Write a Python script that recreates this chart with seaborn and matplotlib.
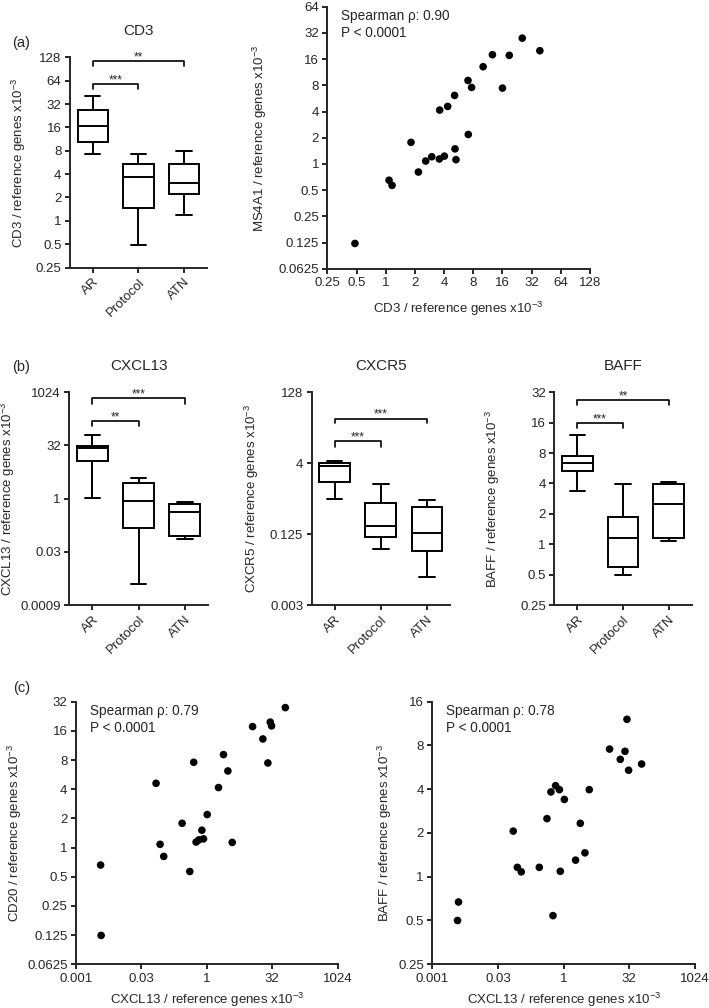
import numpy as np
import pandas as pd
import matplotlib
matplotlib.use('Agg')
import matplotlib.pyplot as plt
from matplotlib.ticker import NullLocator
import seaborn as sns

sns.set_style('ticks')
plt.rcParams['font.family'] = ['Liberation Sans', 'DejaVu Sans']
plt.rcParams['mathtext.fontset'] = 'custom'
plt.rcParams['mathtext.rm'] = 'Liberation Sans'
plt.rcParams['mathtext.default'] = 'regular'
plt.rcParams['font.size'] = 9.5
plt.rcParams['axes.linewidth'] = 1.4
plt.rcParams['xtick.major.width'] = 1.4
plt.rcParams['ytick.major.width'] = 1.4
plt.rcParams['xtick.major.size'] = 3.6
plt.rcParams['ytick.major.size'] = 3.6
plt.rcParams['xtick.major.pad'] = 2.5
plt.rcParams['ytick.major.pad'] = 2.5
plt.rcParams['xtick.labelsize'] = 9.5
plt.rcParams['ytick.labelsize'] = 9.5
plt.rcParams['axes.labelsize'] = 9.5

groups = ['AR', 'Protocol', 'ATN']

# box summaries: min, q1, median, q3, max (whiskers = min..max)
cd3_ar = [7.35, 10.5, 16.7, 26.8, 40.6]
cd3_protocol = [0.495, 1.48, 3.71, 5.36, 7.3]
cd3_atn = [1.18, 2.22, 3.05, 5.36, 8.0]

cxcl13_ar = [1.07, 11.5, 26.3, 31.3, 62.9]
cxcl13_protocol = [0.0038, 0.144, 0.86, 2.79, 3.95]
cxcl13_atn = [0.072, 0.089, 0.43, 0.69, 0.785]

cxcr5_ar = [0.69, 1.56, 3.57, 4.06, 4.55]
cxcr5_protocol = [0.059, 0.108, 0.19, 0.567, 1.46]
cxcr5_atn = [0.0151, 0.0554, 0.131, 0.48, 0.66]

baff_ar = [3.38, 5.34, 6.41, 7.46, 12.0]
baff_protocol = [0.5, 0.6, 1.16, 1.88, 3.95]
baff_atn = [1.08, 1.15, 2.51, 3.97, 4.16]

# significance brackets: (group from, group to, height, drop, label)
cd3_sig = [(0, 2, 114, 98, '**'), (0, 1, 58, 49.8, '***')]
cxcl13_sig = [(0, 2, 690, 478, '***'), (0, 1, 158, 111, '**')]
cxcr5_sig = [(0, 2, 35.5, 28.2, '***'), (0, 1, 11.6, 9.0, '***')]
baff_sig = [(0, 2, 26.9, 23.9, '**'), (0, 1, 16.0, 14.3, '***')]

# scatter (a): CD3 vs MS4A1
cd3_x = [0.48, 1.08, 1.16, 1.82, 2.17, 2.58, 2.98, 3.57, 4.02, 3.60, 4.35, 5.13,
         5.18, 5.30, 7.1, 7.05, 7.68, 10.1, 12.6, 16.0, 18.8, 25.6, 38.9]
ms4a1_y = [0.122, 0.65, 0.567, 1.77, 0.807, 1.08, 1.21, 1.14, 1.23, 4.16, 4.58, 6.13,
           1.49, 1.12, 2.18, 9.11, 7.57, 13.1, 18.0, 7.44, 17.7, 27.9, 20.0]

# scatter (c) left: CXCL13 vs CD20
cxcl13_x1 = [0.0036, 0.0037, 0.068, 0.084, 0.102, 0.27, 0.406, 0.50, 0.567, 0.655, 0.77, 0.84,
             1.02, 1.86, 2.42, 3.05, 3.84, 11.3, 19.5, 25.4, 28.8, 30.9, 64.0]
cd20_y = [0.66, 0.124, 4.6, 1.08, 0.81, 1.78, 0.566, 7.58, 1.14, 1.2, 1.51, 1.23,
          2.19, 4.16, 9.1, 6.17, 1.13, 17.7, 13.2, 7.46, 19.7, 18.0, 27.8]

# scatter (c) right: CXCL13 vs BAFF
cxcl13_x2 = [0.0037, 0.0039, 0.070, 0.087, 0.107, 0.277, 0.415, 0.512, 0.57, 0.655, 0.80, 0.84,
             1.04, 1.88, 2.41, 3.08, 3.87, 11.3, 19.9, 25.5, 28.3, 30.9, 61.4]
baff_y = [0.5, 0.67, 2.06, 1.16, 1.08, 1.16, 2.51, 3.83, 0.54, 4.23, 3.97, 1.09,
          3.4, 1.3, 2.33, 1.46, 3.97, 7.55, 6.42, 7.29, 12.1, 5.4, 5.96]

ylab = ' / reference genes x10$^{-3}$'


def fmt_axis(ax):
    sns.despine(ax=ax)
    ax.xaxis.set_minor_locator(NullLocator())
    ax.yaxis.set_minor_locator(NullLocator())


def box_panel(ax, summaries, sig, yticks, ylabels, title, name, ylab_x):
    df = pd.DataFrame({'group': np.repeat(groups, 5),
                       'value': np.concatenate(summaries)})
    sns.boxplot(data=df, x='group', y='value', ax=ax, log_scale=2, whis=(0, 100),
                width=0.67, color='white', linecolor='black', linewidth=1.4,
                fliersize=0)
    ax.set_ylim(yticks[0], yticks[-1])
    ax.set_yticks(yticks)
    ax.set_yticklabels(ylabels)
    ax.set_xlim(-0.5, 2.5)
    ax.set_xticks(range(3))
    ax.set_xticklabels(groups, rotation=45, ha='right', rotation_mode='anchor')
    ax.set_xlabel('')
    ax.set_ylabel(name + ylab)
    ax.yaxis.set_label_coords(ylab_x, 0.5)
    ax.set_title(title, fontsize=11, pad=16)
    for g1, g2, h, d, lab in sig:
        ax.plot([g1, g1, g2, g2], [d, h, h, d], color='black', lw=1.2, clip_on=False)
        ax.annotate(lab, xy=((g1 + g2) / 2, h), xytext=(0, 0.5), textcoords='offset points',
                    ha='center', va='baseline', fontsize=8.5)
    fmt_axis(ax)


def scatter_panel(ax, x, y, xlim, xticks, xlabels, yticks, ylabels, xname, yname, rho,
                  ylab_x, xlab_y):
    sns.scatterplot(x=x, y=y, ax=ax, color='black', s=30, edgecolor='none')
    ax.set_xscale('log', base=2)
    ax.set_yscale('log', base=2)
    ax.set_xlim(xlim)
    ax.set_ylim(yticks[0], yticks[-1])
    ax.set_xticks(xticks)
    ax.set_xticklabels(xlabels)
    ax.set_yticks(yticks)
    ax.set_yticklabels(ylabels)
    ax.set_xlabel(xname + ylab)
    ax.xaxis.set_label_coords(0.5, xlab_y)
    ax.set_ylabel(yname + ylab)
    ax.yaxis.set_label_coords(ylab_x, 0.5)
    ax.text(0.052, 0.966, 'Spearman \u03c1: ' + rho, transform=ax.transAxes,
            ha='left', va='center', fontsize=9.8)
    ax.text(0.052, 0.899, 'P < 0.0001', transform=ax.transAxes,
            ha='left', va='center', fontsize=9.8)
    fmt_axis(ax)


fig = plt.figure(figsize=(7.09, 10.08), dpi=100)

ax_a1 = fig.add_axes([0.0987, 0.7346, 0.193, 0.2085])
ax_a2 = fig.add_axes([0.4619, 0.7334, 0.3702, 0.2599])
ax_b1 = fig.add_axes([0.0977, 0.3998, 0.1956, 0.211])
ax_b2 = fig.add_axes([0.4396, 0.3998, 0.1951, 0.211])
ax_b3 = fig.add_axes([0.7818, 0.3998, 0.1938, 0.211])
ax_c1 = fig.add_axes([0.1072, 0.0434, 0.369, 0.2605])
ax_c2 = fig.add_axes([0.6097, 0.0434, 0.3705, 0.2605])

pow2_small = [0.25, 0.5, 1, 2, 4, 8, 16, 32, 64, 128]
pow2_small_lab = ['0.25', '0.5', '1', '2', '4', '8', '16', '32', '64', '128']

box_panel(ax_a1, [cd3_ar, cd3_protocol, cd3_atn], cd3_sig,
          pow2_small, pow2_small_lab, 'CD3', 'CD3', -0.31)

scatter_panel(ax_a2, cd3_x, ms4a1_y, (0.25, 128), pow2_small, pow2_small_lab,
              [0.0625, 0.125, 0.25, 0.5, 1, 2, 4, 8, 16, 32, 64],
              ['0.0625', '0.125', '0.25', '0.5', '1', '2', '4', '8', '16', '32', '64'],
              'CD3', 'MS4A1', '0.90', -0.223, -0.118)

box_panel(ax_b1, [cxcl13_ar, cxcl13_protocol, cxcl13_atn], cxcl13_sig,
          [2 ** -10, 2 ** -5, 1, 32, 1024], ['0.0009', '0.03', '1', '32', '1024'],
          'CXCL13', 'CXCL13', -0.38)
box_panel(ax_b2, [cxcr5_ar, cxcr5_protocol, cxcr5_atn], cxcr5_sig,
          [2 ** -8, 2 ** -3, 4, 128], ['0.003', '0.125', '4', '128'],
          'CXCR5', 'CXCR5', -0.367)
box_panel(ax_b3, [baff_ar, baff_protocol, baff_atn], baff_sig,
          [0.25, 0.5, 1, 2, 4, 8, 16, 32], ['0.25', '0.5', '1', '2', '4', '8', '16', '32'],
          'BAFF', 'BAFF', -0.377)

big_ticks = [2 ** -10, 2 ** -5, 1, 32, 1024]
big_lab = ['0.001', '0.03', '1', '32', '1024']
scatter_panel(ax_c1, cxcl13_x1, cd20_y, (2 ** -10, 2 ** 10), big_ticks, big_lab,
              [0.0625, 0.125, 0.25, 0.5, 1, 2, 4, 8, 16, 32],
              ['0.0625', '0.125', '0.25', '0.5', '1', '2', '4', '8', '16', '32'],
              'CXCL13', 'CD20', '0.79', -0.199, -0.1)
scatter_panel(ax_c2, cxcl13_x2, baff_y, (2 ** -10, 2 ** 10), big_ticks, big_lab,
              [0.25, 0.5, 1, 2, 4, 8, 16],
              ['0.25', '0.5', '1', '2', '4', '8', '16'],
              'CXCL13', 'BAFF', '0.78', -0.146, -0.1)

fig.text(21.5 / 709, 1 - 42.5 / 1008, '(a)', ha='center', va='center', fontsize=10.5)
fig.text(21.5 / 709, 1 - 366.7 / 1008, '(b)', ha='center', va='center', fontsize=10.5)
fig.text(21.5 / 709, 1 - 688.3 / 1008, '(c)', ha='center', va='center', fontsize=10.5)

fig.savefig('out.png', dpi=100)
